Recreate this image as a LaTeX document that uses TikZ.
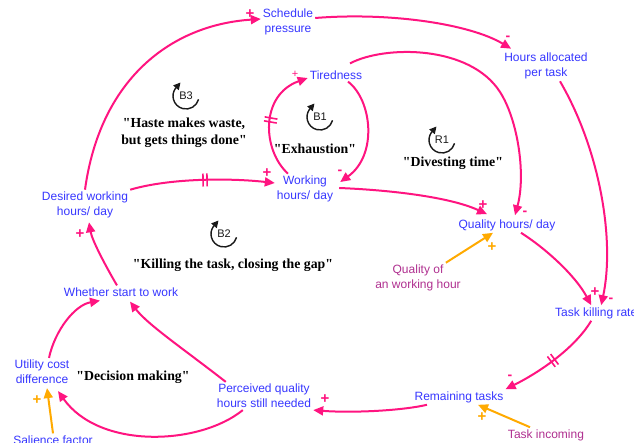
\documentclass[tikz,border=0pt]{standalone}
\usepackage{fontspec}
\newfontfamily\varfont{Liberation Sans}
\newfontfamily\mottofont{Liberation Serif}
\usetikzlibrary{arrows.meta,decorations.markings}
\definecolor{linkpink}{RGB}{255,20,128}
\definecolor{varblue}{RGB}{55,55,255}
\definecolor{exoplum}{RGB}{176,48,144}
\definecolor{exoorange}{RGB}{255,170,0}
\definecolor{loopink}{RGB}{25,25,25}

\begin{document}
\begin{tikzpicture}[x=1pt,y=-1pt,
  var/.style={font=\varfont\fontsize{12}{15}\selectfont, text=varblue, align=center, inner sep=2pt},
  exo/.style={var, text=exoplum},
  motto/.style={font=\mottofont\bfseries\fontsize{13.8}{17}\selectfont, text=black, align=center, inner sep=1pt},
  link/.style={draw=linkpink, line width=2pt, -{Triangle[length=10pt,width=9pt]}},
  orangelink/.style={draw=exoorange, line width=2pt, -{Triangle[length=10pt,width=9pt]}},
  delay/.style={postaction={decorate,decoration={markings,
      mark=at position #1 with {\draw[linkpink,line width=1.6pt,-] (-2pt,-6.5pt)--(-2pt,6.5pt) (2pt,-6.5pt)--(2pt,6.5pt);}}}},
  plus/.style={font=\varfont\bfseries\fontsize{15}{15}\selectfont, text=linkpink, inner sep=0pt},
  minus/.style={font=\varfont\bfseries\fontsize{14}{14}\selectfont, text=linkpink, inner sep=0pt},
  oplus/.style={plus, text=exoorange},
  looptag/.style={font=\varfont\fontsize{11}{11}\selectfont, text=loopink, inner sep=0pt},
  looparrow/.style={draw=loopink, line width=1.4pt, -{Triangle[length=7pt,width=7pt]}}
]
\useasboundingbox (0,0) rectangle (634,443);
\clip (0,0) rectangle (634,443);
\fill[white] (0,0) rectangle (634,443);

% ---- variables ----
\node[var] (sched)   at (288,22)  {Schedule\\pressure};
\node[var] (hours)   at (546,66)  {Hours allocated\\per task};
\node[var] (tired)   at (336,75)  {Tiredness};
\node[var] (work)    at (305,189) {Working\\hours/ day};
\node[var] (desired) at (85,205)  {Desired working\\hours/ day};
\node[var] (qual)    at (507,225) {Quality hours/ day};
\node[exo] (qwh)     at (418,278) {Quality of\\an working hour};
\node[var,anchor=west] (kill) at (553,313) {Task killing rate};
\node[var] (remain)  at (459,397) {Remaining tasks};
\node[exo] (incoming) at (546,435) {Task incoming};
\node[var] (perc)    at (264,396) {Perceived quality\\hours still needed};
\node[var] (util)    at (42,372)  {Utility cost\\difference};
\node[var] (sal)     at (53,440)  {Salience factor};
\node[var] (whether) at (121,292) {Whether start to work};

% ---- loop names ----
\node[motto] (m3) at (184,133) {"Haste makes waste,\\but gets things done"};
\node[motto] (m1) at (315,149) {"Exhaustion"};
\node[motto] (mr) at (453,163) {"Divesting time"};
\node[motto] (m2) at (233,265) {"Killing the task, closing the gap"};
\node[motto] (md) at (133,377) {"Decision making"};

% ---- loop markers: clockwise arc ending in a tip that points up and out ----
\foreach \tag/\cx/\cy in {B3/186/96, B1/320/117, R1/442/140, B2/224/234}{
  \node[looptag] (loop\tag) at (\cx,\cy) {\tag};
  \begin{scope}[x=1pt,y=1pt,shift={(loop\tag.center)}]
    \draw[looparrow] (-15:13) arc[start angle=-15, end angle=-215, radius=13] -- (-5.5,13.5);
  \end{scope}
}

% ---- causal links ----
\draw[link] (desired.north) .. controls (100,80) and (170,25) .. ([yshift=3pt]sched.west);
\draw[link] ([yshift=4pt]sched.east) .. controls (390,12) and (470,24) .. ([xshift=9pt,yshift=2pt]hours.north west);
\draw[link] ([xshift=12pt]tired.south) .. controls (372,100) and (378,155) .. ([xshift=5pt,yshift=7pt]work.east);
\draw[link,delay=0.5] ([xshift=-17pt]work.north) .. controls (262,150) and (260,95) .. ([yshift=-3pt]tired.west);
\draw[link,delay=0.52] (desired.north east) .. controls (170,178) and (230,178) .. ([yshift=6pt]work.west);
\draw[link] ([xshift=4pt,yshift=1pt]work.east) .. controls (390,190) and (450,197) .. ([xshift=-20pt,yshift=3pt]qual.north);
\draw[link] ([xshift=14pt,yshift=5pt]tired.north) .. controls (385,45) and (470,45) .. (500,92)
            .. controls (518,120) and (526,175) .. ([xshift=8pt,yshift=2pt]qual.north);
\draw[link] ([xshift=14pt]qual.south) .. controls (545,248) and (575,275) .. ([xshift=-5pt]kill.north);
\draw[link] ([xshift=14pt]hours.south) .. controls (600,150) and (615,240) .. ([xshift=5pt]kill.north);
\draw[link,delay=0.5] ([xshift=-5pt]kill.south) .. controls (575,348) and (540,372) .. (remain.north east);
\draw[link] ([xshift=-32pt]remain.south) .. controls (400,411) and (350,413) .. (perc.south east);
\draw[orangelink] ([xshift=-16pt]incoming.north) -- ([xshift=19pt]remain.south);
\draw[orangelink] ([xshift=-17pt]qwh.north east) -- ([xshift=-14pt]qual.south);
\draw[link] ([xshift=11pt]perc.north west) .. controls (185,350) and (148,325) .. ([xshift=9pt,yshift=-3pt]whether.south);
\draw[link] ([xshift=28pt]perc.south west) .. controls (200,445) and (100,450) .. ([xshift=16pt,yshift=-5pt]util.south);
\draw[link] ([xshift=7pt]util.north) .. controls (55,330) and (75,305) .. ([xshift=-21pt,yshift=-2pt]whether.south);
\draw[link] ([xshift=-4pt]whether.north) .. controls (105,265) and (92,240) .. ([xshift=4pt,yshift=-2pt]desired.south);
\draw[orangelink] (sal.north) -- ([xshift=5pt,yshift=-2pt]util.south);

% ---- link polarities ----
\node[plus]  (p1)  at (250,14)  {+};
\node[minus] (n1)  at (508,38)  {-};
\node[font=\varfont\fontsize{11}{11}\selectfont, text=linkpink, inner sep=0pt] (p2) at (295,74) {+};
\node[minus] (n2)  at (340,172) {-};
\node[plus]  (p3)  at (267,173) {+};
\node[plus]  (p4)  at (483,205) {+};
\node[minus] (n3)  at (525,213) {-};
\node[oplus] (p5)  at (492,247) {+};
\node[plus]  (p6)  at (595,292) {+};
\node[minus] (n4)  at (611,300) {-};
\node[minus] (n5)  at (510,377) {-};
\node[plus]  (p7)  at (325,399) {+};
\node[oplus] (p8)  at (482,417) {+};
\node[plus]  (p9)  at (80,234)  {+};
\node[oplus] (p10) at (37,400)  {+};
\end{tikzpicture}
\end{document}
